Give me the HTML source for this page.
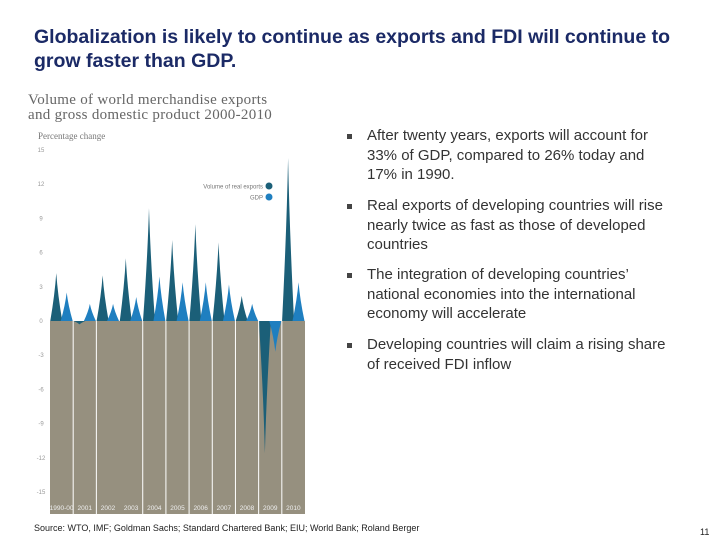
<!DOCTYPE html>
<html><head><meta charset="utf-8"><style>
body{margin:0;width:720px;height:540px;background:#fff;position:relative;overflow:hidden;font-family:"Liberation Sans",Arial,sans-serif}
.title{position:absolute;left:34px;top:25px;font-size:19.5px;font-weight:bold;color:#1b2a66;line-height:24px;width:670px}
.bul{position:absolute;left:367px;width:302px;font-size:15px;line-height:19.5px;color:#333}
.bul:before{content:"";position:absolute;left:-20px;top:8px;width:5px;height:5px;background:#444}
.src{position:absolute;left:34px;top:523px;font-size:9px;color:#222}
.pg{position:absolute;left:700px;top:527px;font-size:9px;color:#222}
</style></head><body>
<div class="title">Globalization is likely to continue as exports and FDI will continue to grow faster than GDP.</div>
<svg id="chart" width="720" height="540" style="position:absolute;left:0;top:0">
<text x="28" y="104" font-family="Liberation Serif,serif" font-size="15" letter-spacing="0.3" fill="#666">Volume of world merchandise exports</text>
<text x="28" y="119" font-family="Liberation Serif,serif" font-size="15" letter-spacing="0.3" fill="#666">and gross domestic product 2000-2010</text>
<text x="38" y="139" font-family="Liberation Serif,serif" font-size="9" fill="#777">Percentage change</text>
<g id="plot"></g>
<circle cx="269" cy="186" r="3.5" fill="#1b5f78"/>
<text x="263" y="188.5" text-anchor="end" font-size="6" fill="#777">Volume of real exports</text>
<circle cx="269" cy="197" r="3.5" fill="#1f7fc0"/>
<text x="263" y="199.5" text-anchor="end" font-size="6" fill="#777">GDP</text>
</svg>
<div class="bul" style="top:126px">After twenty years, exports will account for 33% of GDP, compared to 26% today and 17% in 1990.</div>
<div class="bul" style="top:196px">Real exports of developing countries will rise nearly twice as fast as those of developed countries</div>
<div class="bul" style="top:265px">The integration of developing countries’ national economies into the international economy will accelerate</div>
<div class="bul" style="top:335px">Developing countries will claim a rising share of received FDI inflow</div>
<div class="src">Source: WTO, IMF; Goldman Sachs; Standard Chartered Bank; EIU; World Bank; Roland Berger</div>
<div class="pg">11</div>
<script>
const years=["1990-00","2001","2002","2003","2004","2005","2006","2007","2008","2009","2010"];
const exportsVals=[4.2,-0.3,4.0,5.5,9.9,7.1,8.5,6.9,2.2,-11.6,14.3];
const gdpVals=[2.5,1.5,1.5,2.1,3.9,3.4,3.4,3.2,1.5,-2.7,3.4];
const yTicks=[15,12,9,6,3,0,-3,-6,-9,-12,-15];
const NS="http://www.w3.org/2000/svg";
const g=document.getElementById('plot');
const x0=50,x1=305,y0=321,unit=11.4,bottom=514;
const cw=(x1-x0)/years.length;
const y=v=>y0-v*unit;
function mk(t,a){const e=document.createElementNS(NS,t);for(const k in a)e.setAttribute(k,a[k]);g.appendChild(e);return e;}
const bg=mk('rect',{x:x0,y:y0,width:x1-x0,height:bottom-y0,fill:'#96907f'});


yTicks.forEach(t=>{const e=mk('text',{x:41,y:y(t)+2,'text-anchor':'middle','font-size':6,fill:'#999'});e.textContent=t;

});
function spike(cx,v,color,name){
  const hw=6,yy=y(v);
  const d=`M${cx-hw},${y0} Q${cx-1.5},${y0-(y0-yy)*0.55} ${cx},${yy} Q${cx+1.5},${y0-(y0-yy)*0.55} ${cx+hw},${y0} Z`;
  const e=mk('path',{d:d,fill:color});
  
  
}
years.forEach((yr,i)=>{
  const cx=x0+i*cw;
  spike(cx+cw*0.27,exportsVals[i],'#1b5f78','exports-spike-'+yr);
  spike(cx+cw*0.72,gdpVals[i],'#1f7fc0','gdp-spike-'+yr);
  const t=mk('text',{x:cx+cw/2,y:bottom-4,'text-anchor':'middle','font-size':6.5,fill:'#eee'});t.textContent=yr;
  
  
  if(i>0&&i!==3){const l=mk('line',{x1:cx,x2:cx,y1:y0,y2:bottom,stroke:'#fff','stroke-width':1});
  
  }
});
</script>
</body></html>
